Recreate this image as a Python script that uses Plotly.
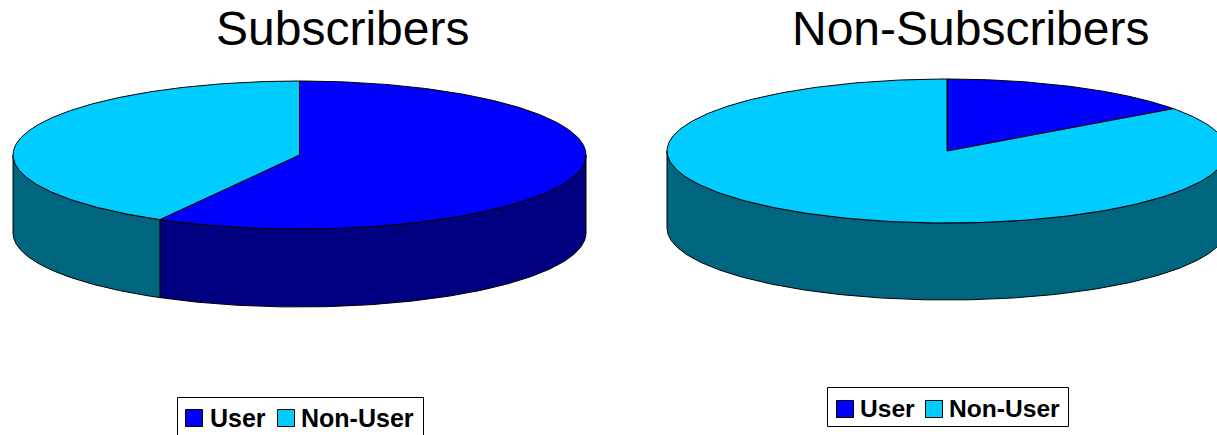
import numpy as np
import plotly.graph_objects as go

# Data (percent shares)
categories = ["User", "Non-User"]
subscribers = [58.1, 41.9]
non_subscribers = [15, 85]
titles = ["Subscribers", "Non-Subscribers"]

# Styles
top_colors = ["#0000FF", "#00CCFF"]
wall_colors = ["#000080", "#006680"]
FONT = "Liberation Sans"
W, H = 1217, 435

# Pie geometry in picture pixels: centre x, centre y, radius x, radius y, depth
GEOM = [(299.5, 155, 286.5, 74, 78), (947, 151, 280, 72, 77)]
TITLE_POS = [(342, 28), (970, 28)]
# Legend boxes: x0, y0, x1, y1, swatch lefts, swatch top, text lefts, text middle, font size
LEGENDS = [
    dict(box=(177, 397, 423, 437), sw=(185, 277), sw_y=409, tx=(210, 301), ty=418, size=25),
    dict(box=(827, 387, 1068, 426), sw=(836, 925), sw_y=400, tx=(860, 949), ty=408, size=24.6),
]
SW = 17


def ellipse(theta, g):
    cx, cy, rx, ry, _ = g
    return cx + rx * np.sin(theta), cy - ry * np.cos(theta)


fig = go.Figure()
line = dict(color="black", width=1)

for values, g in zip([subscribers, non_subscribers], GEOM):
    shares = np.cumsum([0] + list(values)) / sum(values) * 2 * np.pi
    # side walls: only the part on the near half of the ellipse is visible
    for i, cat in enumerate(categories):
        a0, a1 = max(shares[i], np.pi / 2), min(shares[i + 1], 3 * np.pi / 2)
        if a1 <= a0:
            continue
        t = np.linspace(a0, a1, 200)
        x, y = ellipse(t, g)
        fig.add_trace(go.Scatter(
            x=np.r_[x, x[::-1], x[0]], y=np.r_[y, y[::-1] + g[4], y[0]],
            mode="lines", fill="toself", fillcolor=wall_colors[i], line=line,
            showlegend=False, hoverinfo="skip"))
    # top sectors
    for i, cat in enumerate(categories):
        t = np.linspace(shares[i], shares[i + 1], 300)
        x, y = ellipse(t, g)
        fig.add_trace(go.Scatter(
            x=np.r_[g[0], x, g[0]], y=np.r_[g[1], y, g[1]],
            mode="lines", fill="toself", fillcolor=top_colors[i], line=line,
            name=cat, showlegend=False))

# Legends: box, swatches and labels
shapes, annotations = [], []
for leg in LEGENDS:
    x0, y0, x1, y1 = leg["box"]
    shapes.append(dict(type="rect", xref="x", yref="y", x0=x0 + .5, y0=y0 + .5, x1=x1 + .5, y1=y1 + .5,
                       line=dict(color="black", width=1), fillcolor="white", layer="above"))
    for i, cat in enumerate(categories):
        sx = leg["sw"][i]
        shapes.append(dict(type="rect", xref="x", yref="y", x0=sx + .5, x1=sx + SW + .5,
                           y0=leg["sw_y"] + .5, y1=leg["sw_y"] + SW + .5,
                           line=dict(color="black", width=1), fillcolor=top_colors[i], layer="above"))
        annotations.append(dict(text=f"<b>{cat}</b>", x=leg["tx"][i], y=leg["ty"], xref="x", yref="y",
                                xanchor="left", yanchor="middle", showarrow=False, borderpad=0, borderwidth=0,
                                font=dict(family=FONT, size=leg["size"], color="black")))

for t, p in zip(titles, TITLE_POS):
    annotations.append(dict(text=t, x=p[0], y=p[1], xref="x", yref="y",
                            xanchor="center", yanchor="middle", showarrow=False,
                            font=dict(family=FONT, size=48, color="black")))

fig.update_layout(
    width=W, height=H, autosize=False, showlegend=False,
    margin=dict(l=0, r=0, t=0, b=0, autoexpand=False),
    paper_bgcolor="white", plot_bgcolor="white",
    xaxis=dict(range=[0, W], visible=False, fixedrange=True),
    yaxis=dict(range=[H, 0], visible=False, fixedrange=True),
    shapes=shapes, annotations=annotations,
)

fig.write_html("out.html", config={"displayModeBar": False},
               post_script="document.body.style.margin='0';document.body.style.overflow='hidden';")
